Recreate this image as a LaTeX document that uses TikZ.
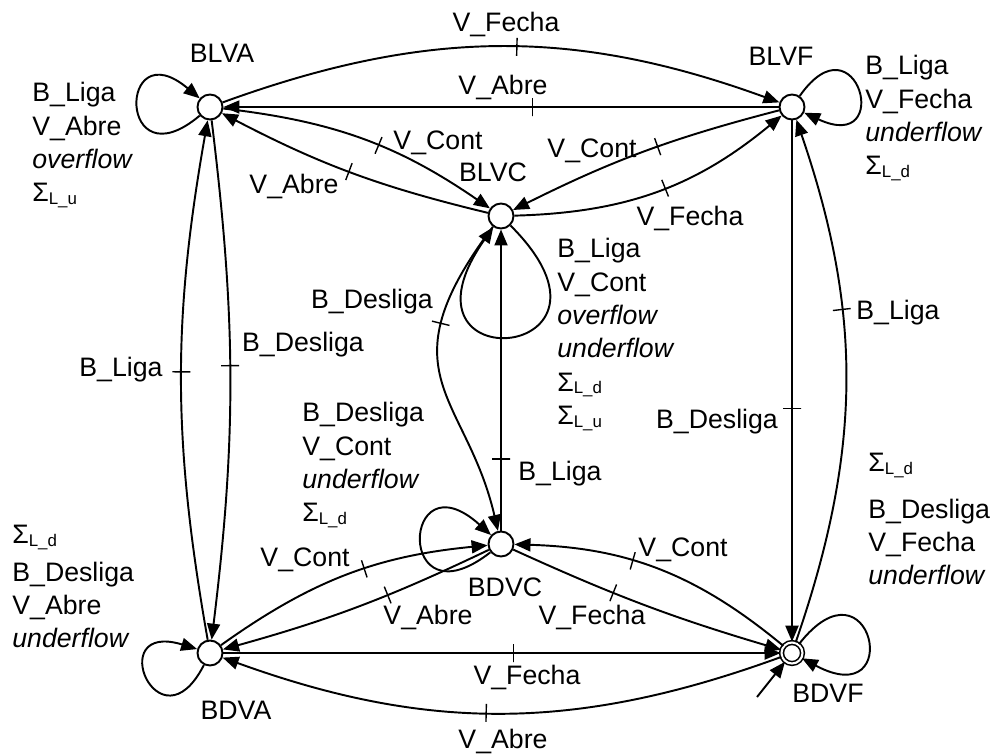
\documentclass[tikz,border=0pt]{standalone}
\usepackage{fontspec}
\setmainfont{Liberation Sans}
\usetikzlibrary{arrows.meta}
% small lowered index after a Sigma
\newcommand\lsub[1]{\raisebox{-1.5pt}{\fontsize{9.6pt}{10pt}\selectfont #1}}
\begin{document}
\begin{tikzpicture}[x=0.02cm,y=0.02cm,
  every node/.style={font=\fontsize{15.2pt}{19pt}\selectfont},
  st/.style={circle, draw, fill=white, minimum size=0.5cm, inner sep=0pt, line width=1.1pt},
  fin/.style={circle, draw, fill=white, minimum size=0.42cm, inner sep=0pt, line width=0.9pt, double, double distance=1.2pt},
  tr/.style={draw, line width=1.1pt, -{Triangle[length=0.32cm,width=0.26cm]}},
  tk/.style={draw, sloped, shape=rectangle, minimum width=0pt, minimum height=0.36cm, inner sep=0pt, line width=0.8pt},
  lb/.style={inner sep=0pt},
  ml/.style={align=left, anchor=north west, inner sep=0pt}]
\useasboundingbox (0,0) rectangle (990,-754);

% states
\node[st]  (BLVA) at (210,-107) {};
\node[st]  (BLVF) at (792,-107) {};
\node[st]  (BLVC) at (501,-216) {};
\node[st]  (BDVC) at (501,-544) {};
\node[st]  (BDVA) at (210,-653) {};
\node[fin] (BDVF) at (792,-653) {};
\coordinate (start) at (757,-697);

% state names
\node[lb] (nBLVA) at (222,-53)  {BLVA};
\node[lb] (nBLVF) at (781,-56)  {BLVF};
\node[lb] (nBLVC) at (493,-172) {BLVC};
\node[lb] (nBDVC) at (505,-587) {BDVC};
\node[lb] (nBDVA) at (236,-710) {BDVA};
\node[lb] (nBDVF) at (828,-693) {BDVF};

% top row
\draw[tr] (BLVA) to[bend left=20] node[tk,pos=0.53]{} (BLVF);
\draw[tr] (BLVF) -- node[tk,pos=0.443]{} (BLVA);
\draw[tr] (BLVA) to[bend left=14] node[tk,pos=0.56]{} (BLVC);
\draw[tr] (BLVC) to[bend left=7] node[tk,pos=0.51]{} (BLVA);
\draw[tr] (BLVF) to[bend right=6] node[tk,pos=0.44]{} (BLVC);
\draw[tr] (BLVC) to[bend right=19] node[tk,pos=0.53]{} (BLVF);

% sides
\draw[tr] (BDVA) to[bend left=10] node[tk,pos=0.517]{} (BLVA);
\draw[tr] (BLVA) to[bend left=7] node[tk,pos=0.47]{} (BDVA);
\draw[tr] (BLVF) -- node[tk,pos=0.553]{} (BDVF);
\draw[tr] (BDVF) to[bend right=19] node[tk,pos=0.644]{} (BLVF);

% centre column
\draw[tr] (BDVC) -- node[tk,pos=0.237]{} (BLVC);
\draw[tr] (BLVC) to[out=233,in=103,out distance=3.7cm,in distance=2.8cm] node[tk,pos=0.27]{} (BDVC);

% bottom row
\draw[tr] (BDVA) to[bend left=15] node[tk,pos=0.57]{} (BDVC);
\draw[tr] (BDVC) to[bend left=5] node[tk,pos=0.38]{} (BDVA);
\draw[tr] (BDVF) to[bend right=19] node[tk,pos=0.6]{} (BDVC);
\draw[tr] (BDVC) to[bend right=4] node[tk,pos=0.37]{} (BDVF);
\draw[tr] (BDVA) -- node[tk,pos=0.52]{} (BDVF);
\draw[tr] (BDVF) to[bend left=20] node[tk,pos=0.53]{} (BDVA);

% self loops
\draw[tr] (BLVA) to[out=220,in=140,distance=2.15cm] (BLVA);
\draw[tr] (BLVF) to[out=55,in=-25,distance=2cm] (BLVF);
\draw[tr] (BLVC) to[out=-45,in=-125,distance=3.84cm] (BLVC);
\draw[tr] (BDVC) to[out=218,in=138,distance=2.42cm] (BDVC);
\draw[tr] (BDVA) to[out=243,in=163,distance=1.98cm] (BDVA);
\draw[tr] (BDVF) to[out=52,in=-28,distance=2.36cm] (BDVF);

% initial arrow
\draw[tr] (start) -- (BDVF);

% transition labels
\node[lb] (l1)  at (506,-24)  {V\_Fecha};
\node[lb] (l2)  at (503,-87)  {V\_Abre};
\node[lb] (l3)  at (438,-143) {V\_Cont};
\node[lb] (l4)  at (294,-186) {V\_Abre};
\node[lb] (l5)  at (592,-151) {V\_Cont};
\node[lb] (l6)  at (690,-218) {V\_Fecha};
\node[lb] (l7)  at (121,-370) {B\_Liga};
\node[lb] (l8)  at (303,-345) {B\_Desliga};
\node[lb] (l9)  at (717,-422) {B\_Desliga};
\node[lb] (l10) at (898,-313) {B\_Liga};
\node[lb] (l11) at (560,-474) {B\_Liga};
\node[lb] (l12) at (372,-302) {B\_Desliga};
\node[lb] (l13) at (305,-560) {V\_Cont};
\node[lb] (l14) at (428,-617) {V\_Abre};
\node[lb] (l15) at (683,-550) {V\_Cont};
\node[lb] (l16) at (592,-617) {V\_Fecha};
\node[lb] (l17) at (527,-677) {V\_Fecha};
\node[lb] (l18) at (503,-741) {V\_Abre};

% loop labels
\node[ml] (m1) at (32,-82)   {B\_Liga\\V\_Abre\\\textit{overflow}\\Σ\lsub{L\_u}};
\node[ml] (m2) at (865,-55)  {B\_Liga\\V\_Fecha\\\textit{underflow}\\Σ\lsub{L\_d}};
\node[ml] (m3) at (557,-238) {B\_Liga\\V\_Cont\\\textit{overflow}\\\textit{underflow}\\Σ\lsub{L\_d}\\Σ\lsub{L\_u}};
\node[ml] (m4) at (302,-402) {B\_Desliga\\V\_Cont\\\textit{underflow}\\Σ\lsub{L\_d}};
\node[ml] (m5) at (12,-525)  {Σ\lsub{L\_d}\\[0.08cm]B\_Desliga\\V\_Abre\\\textit{underflow}};
\node[ml] (m6) at (868,-453) {Σ\lsub{L\_d}\\[0.26cm]B\_Desliga\\V\_Fecha\\\textit{underflow}};
\end{tikzpicture}
\end{document}
